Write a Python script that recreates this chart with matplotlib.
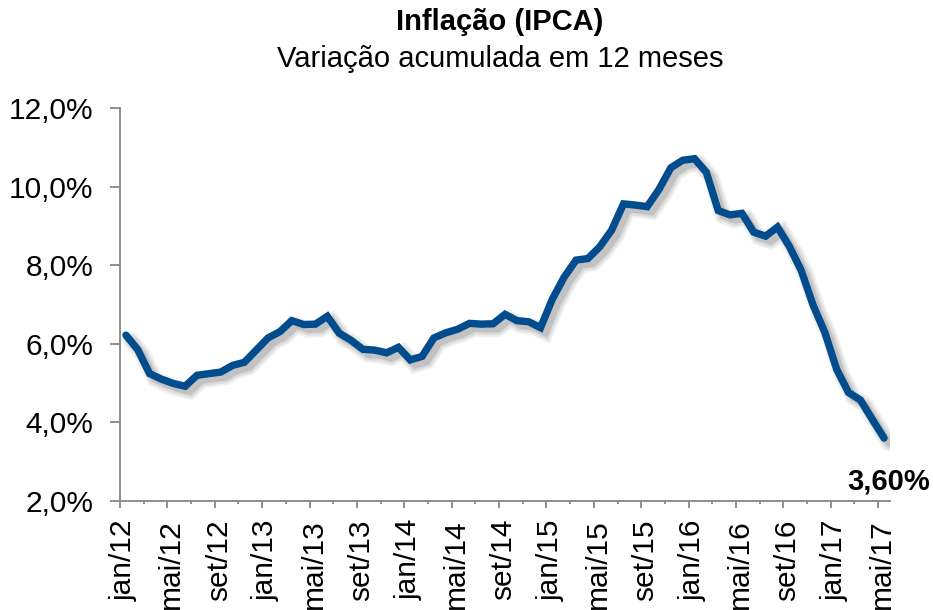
import matplotlib
matplotlib.use("Agg")
import matplotlib.pyplot as plt
import matplotlib.patheffects as pe
import matplotlib.transforms as mtransforms
from matplotlib.ticker import FixedLocator, FuncFormatter

plt.rcParams['font.family'] = ['Liberation Sans', 'DejaVu Sans']

months = ["jan", "fev", "mar", "abr", "mai", "jun", "jul", "ago", "set", "out", "nov", "dez"]
years = ["12", "13", "14", "15", "16", "17"]
ipca = [
    6.22, 5.85, 5.24, 5.10, 4.99, 4.92, 5.20, 5.24, 5.28, 5.45, 5.53, 5.84,
    6.15, 6.31, 6.59, 6.49, 6.50, 6.70, 6.27, 6.09, 5.86, 5.84, 5.77, 5.91,
    5.59, 5.68, 6.15, 6.28, 6.37, 6.52, 6.50, 6.51, 6.75, 6.59, 6.56, 6.41,
    7.14, 7.70, 8.13, 8.17, 8.47, 8.89, 9.56, 9.53, 9.49, 9.93, 10.48, 10.67,
    10.71, 10.36, 9.39, 9.28, 9.32, 8.84, 8.74, 8.97, 8.48, 7.87, 6.99, 6.29,
    5.35, 4.76, 4.57, 4.08, 3.60,
]
labels = [f"{months[i % 12]}/{years[i // 12]}" for i in range(len(ipca))]
last_label = "3,60%"
title = "Inflação (IPCA)"
subtitle = "Variação acumulada em 12 meses"
yticks = [2, 4, 6, 8, 10, 12]

W, H = 933, 610
fig = plt.figure(figsize=(W / 100, H / 100), dpi=100)
ax = fig.add_axes([120 / W, 1 - 501 / H, (890 - 120) / W, (501 - 108) / H])

x = list(range(len(ipca)))
shadow = [
    pe.SimpleLineShadow(offset=(3.5, -3.5), shadow_color='black', alpha=0.06, linewidth=12),
    pe.SimpleLineShadow(offset=(3.5, -3.5), shadow_color='black', alpha=0.08, linewidth=9),
    pe.SimpleLineShadow(offset=(3.5, -3.5), shadow_color='black', alpha=0.12, linewidth=5.5),
    pe.Normal(),
]
ax.plot(x, ipca, color='#004C8C', linewidth=5.3, solid_joinstyle='miter',
        solid_capstyle='round', path_effects=shadow, zorder=3)

ax.set_xlim(-0.5, len(ipca) - 0.5)
ax.set_ylim(2, 12)

spine_color = '#868686'
for s in ['top', 'right']:
    ax.spines[s].set_visible(False)
for s in ['left', 'bottom']:
    ax.spines[s].set_color(spine_color)
    ax.spines[s].set_linewidth(1.3)

ax.set_yticks(yticks)
ax.yaxis.set_major_formatter(FuncFormatter(lambda v, p: f"{v:.1f}".replace('.', ',') + '%'))
ax.tick_params(axis='y', direction='out', length=7, width=1.3, color=spine_color,
               labelsize=21.5, pad=12)

major = [i - 0.5 for i in range(0, len(ipca), 4)]
minor = [i - 0.5 for i in range(2, len(ipca), 4)]
ax.xaxis.set_major_locator(FixedLocator(major))
ax.xaxis.set_minor_locator(FixedLocator(minor))
ax.set_xticklabels([labels[i] for i in range(0, len(ipca), 4)], rotation=90, ha='center', va='top')
ax.tick_params(axis='x', which='major', direction='out', length=5, width=1.3,
               color=spine_color, labelsize=21.5, pad=8)
ax.tick_params(axis='x', which='minor', direction='out', length=2.5, width=1.3, color=spine_color)
offset = mtransforms.ScaledTranslation(4 / 100, 0, fig.dpi_scale_trans)
for lab in ax.get_xticklabels():
    lab.set_transform(lab.get_transform() + offset)

ax.annotate(last_label, xy=(x[-1], ipca[-1]), xytext=(3, -31), textcoords='offset points',
            ha='center', va='center', fontsize=21, fontweight='bold')

fig.text(500 / W, 1 - 22 / H, title, ha='center', va='center', fontsize=21, fontweight='bold')
fig.text(500 / W, 1 - 59 / H, subtitle, ha='center', va='center', fontsize=21)

fig.savefig("out.png", dpi=100)
